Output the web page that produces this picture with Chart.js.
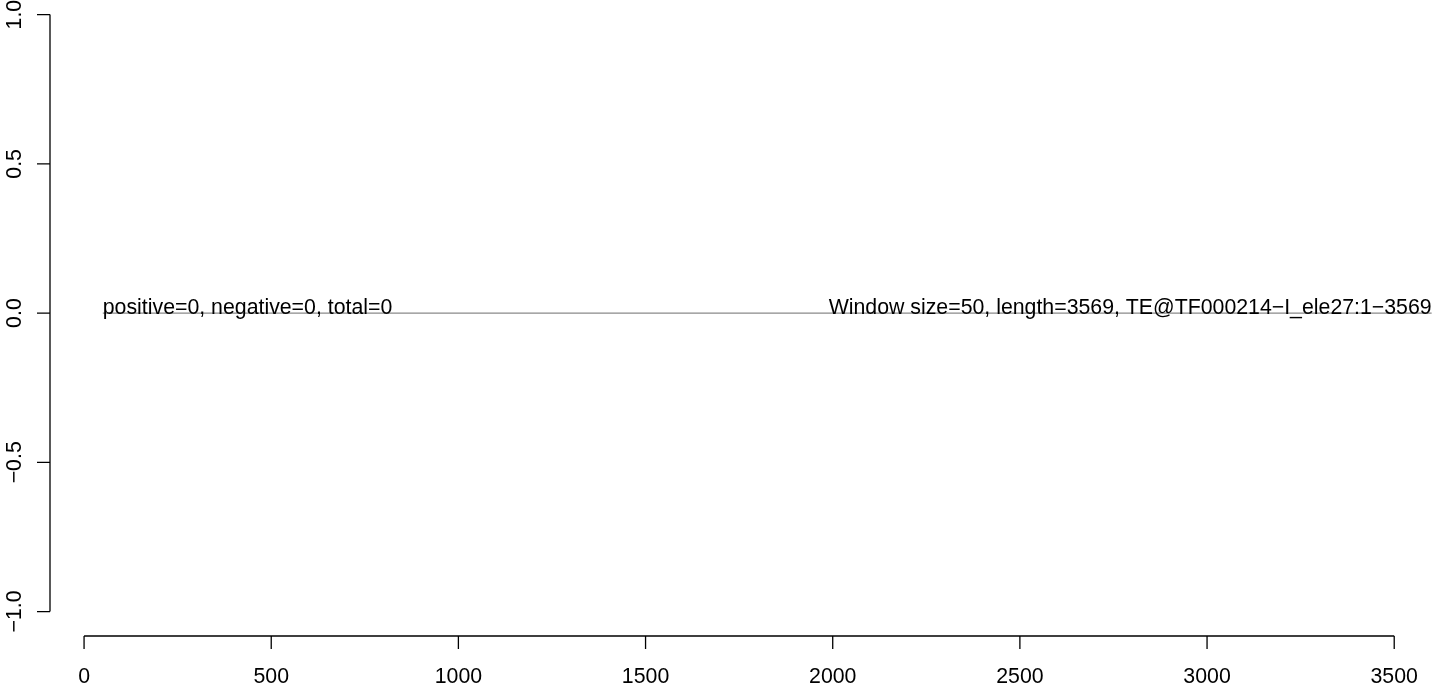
<!DOCTYPE html>
<html lang="en">
<head>
    <meta charset="UTF-8">
    <title>Window counts</title>
    <script src="https://cdn.jsdelivr.net/npm/chart.js"></script>
    <style>
        body {
            margin: 0;
            padding: 0;
            background-color: #ffffff;
        }
        #plot {
            display: block;
        }
    </style>
</head>
<body>
    <canvas id="plot" width="1444" height="687"></canvas>
    <script>
        // data
        const windowPos = [50, 3600];
        const windowCount = [0, 0];
        const xTicks = [0, 500, 1000, 1500, 2000, 2500, 3000, 3500];
        const yTicks = [-1.0, -0.5, 0.0, 0.5, 1.0];
        const yTickLabels = ['\u22121.0', '\u22120.5', '0.0', '0.5', '1.0'];
        const leftNote = 'positive=0, negative=0, total=0';
        const rightNote = 'Window size=50, length=3569, TE@TF000214\u2212I_ele27:1\u22123569';

        const FONT = '21.3px "Liberation Sans", Arial, sans-serif';

        // R style axes: line only from first to last tick
        const rAxes = {
            id: 'rAxes',
            afterDraw(chart) {
                const ctx = chart.ctx;
                const xs = chart.scales.x;
                const ys = chart.scales.y;
                const left = chart.chartArea.left;
                const bottom = chart.chartArea.bottom;
                ctx.save();
                ctx.strokeStyle = '#000';
                ctx.lineWidth = 1.3;
                ctx.fillStyle = '#000';
                ctx.font = FONT;

                // y axis
                const yTop = ys.getPixelForValue(yTicks[yTicks.length - 1]);
                const yBot = ys.getPixelForValue(yTicks[0]);
                ctx.beginPath();
                ctx.moveTo(left, yTop);
                ctx.lineTo(left, yBot);
                yTicks.forEach(v => {
                    const p = ys.getPixelForValue(v);
                    ctx.moveTo(left, p);
                    ctx.lineTo(left - 13, p);
                });
                ctx.stroke();
                ctx.textAlign = 'center';
                ctx.textBaseline = 'alphabetic';
                yTicks.forEach((v, i) => {
                    const p = ys.getPixelForValue(v);
                    ctx.save();
                    ctx.translate(21, p);
                    ctx.rotate(-Math.PI / 2);
                    ctx.fillText(yTickLabels[i], 0, 0);
                    ctx.restore();
                });

                // x axis
                const xL = xs.getPixelForValue(xTicks[0]);
                const xR = xs.getPixelForValue(xTicks[xTicks.length - 1]);
                ctx.beginPath();
                ctx.moveTo(xL, bottom);
                ctx.lineTo(xR, bottom);
                xTicks.forEach(v => {
                    const p = xs.getPixelForValue(v);
                    ctx.moveTo(p, bottom);
                    ctx.lineTo(p, bottom + 13);
                });
                ctx.stroke();
                xTicks.forEach(v => {
                    ctx.fillText(String(v), xs.getPixelForValue(v), 683);
                });

                // notes sitting on the zero line
                const y0 = ys.getPixelForValue(0);
                ctx.textAlign = 'left';
                ctx.fillText(leftNote, xs.getPixelForValue(windowPos[0]), y0 + 1);
                ctx.textAlign = 'right';
                ctx.fillText(rightNote, xs.getPixelForValue(windowPos[windowPos.length - 1]), y0 + 1);
                ctx.restore();
            }
        };

        const ctx = document.getElementById('plot').getContext('2d');
        const chart = new Chart(ctx, {
            type: 'line',
            data: {
                datasets: [{
                    data: windowPos.map((x, i) => ({ x: x, y: windowCount[i] })),
                    borderColor: '#8a8a8a',
                    borderWidth: 1.3,
                    pointRadius: 0,
                    fill: false,
                    tension: 0
                }]
            },
            options: {
                responsive: false,
                animation: false,
                devicePixelRatio: 1,
                layout: { padding: { left: 50, top: 0, right: 0, bottom: 51 } },
                plugins: {
                    legend: { display: false },
                    tooltip: { enabled: false }
                },
                scales: {
                    x: { type: 'linear', display: false, min: -91, max: 3633 },
                    y: { type: 'linear', display: false, min: -1.082, max: 1.049 }
                }
            },
            plugins: [rAxes]
        });
    </script>
</body>
</html>
